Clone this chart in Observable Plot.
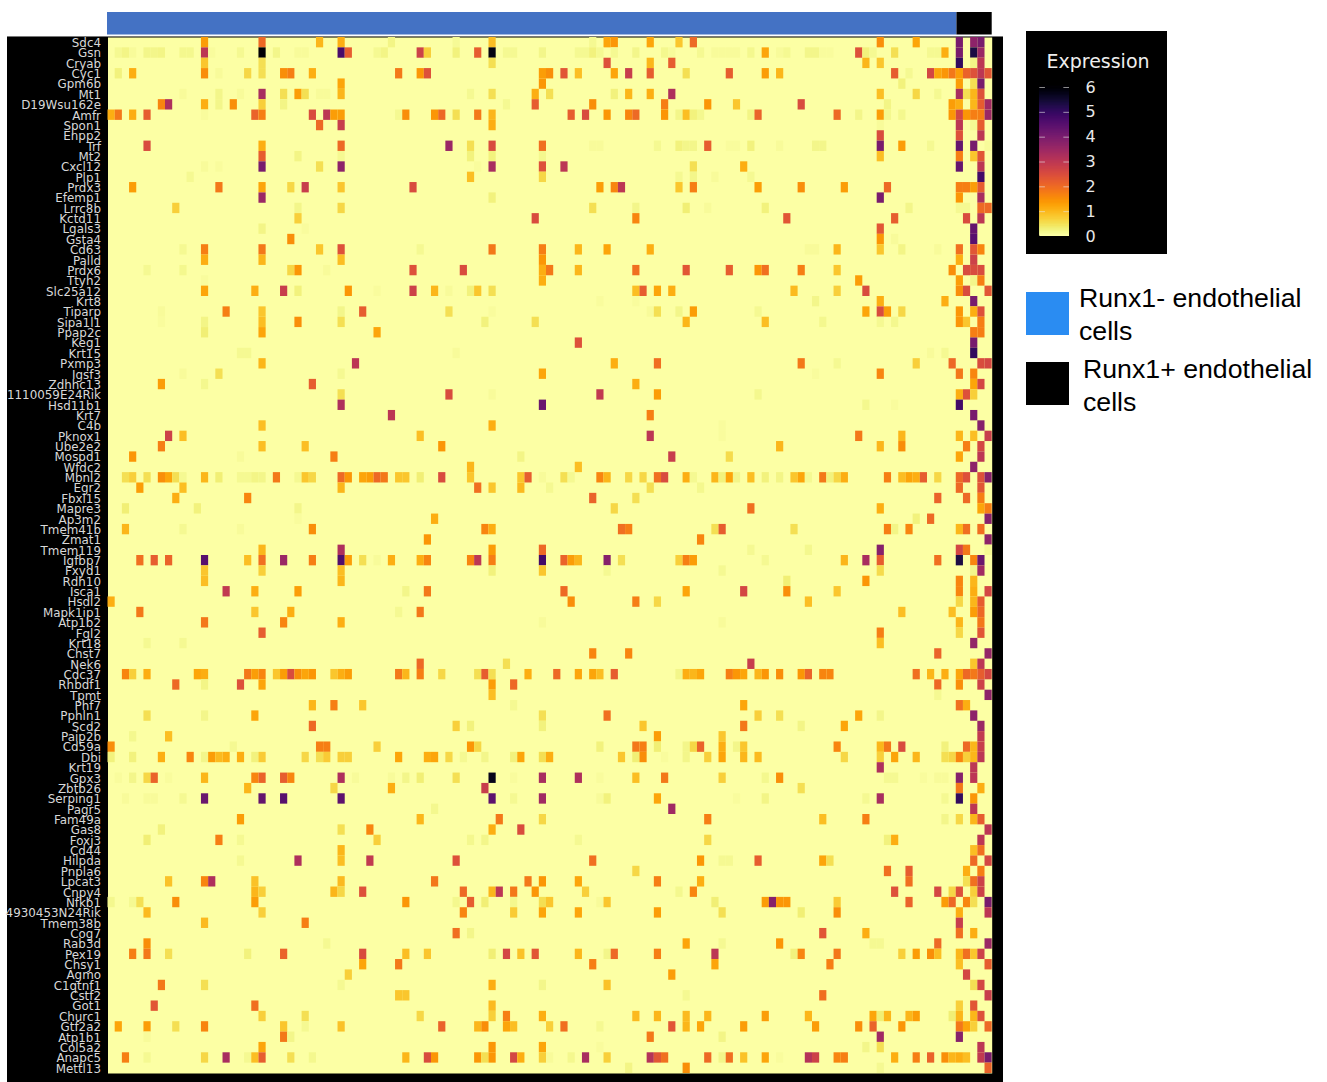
<!DOCTYPE html>
<html><head><meta charset="utf-8">
<script src="https://cdn.jsdelivr.net/npm/d3@7"></script>
<script src="https://cdn.jsdelivr.net/npm/@observablehq/plot@0.6"></script>
<style>
html,body{margin:0;padding:0;background:#fff;width:1327px;height:1082px;overflow:hidden}
.abs{position:absolute}
svg{display:block;background:transparent!important;max-width:none!important}
.lg{position:absolute;font:26.7px "Liberation Sans",Arial,sans-serif;color:#000;line-height:33px;white-space:nowrap}
</style></head><body>
<div class="abs" style="left:7px;top:37px;width:996px;height:1045px;background:#000"></div>
<div class="abs" style="left:7px;top:36px;width:996px;height:1px;background:#777"></div>
<div class="abs" id="main" style="left:0;top:0;width:1327px;height:1082px"></div>
<div class="abs" id="annot" style="left:0;top:0;width:1327px;height:36px"></div>
<div class="abs" style="left:1026px;top:31px;width:141px;height:223px;background:#000"></div>
<div class="abs" id="legend" style="left:1026px;top:31px;width:141px;height:223px"></div>
<div class="abs" style="left:1026px;top:50px;width:144px;text-align:center;font:19px 'DejaVu Sans';color:#eee">Expression</div>
<div class="abs" style="left:1026px;top:292px;width:43px;height:43px;background:#2A8CF2"></div>
<div class="abs" style="left:1026px;top:362px;width:43px;height:43px;background:#000"></div>
<div class="lg" style="left:1079px;top:282px">Runx1- endothelial<br>cells</div>
<div class="lg" style="left:1083px;top:353px">Runx1+ endothelial<br>cells</div>
<script>
const genes = ["Sdc4","Gsn","Cryab","Cyc1","Gpm6b","Mt1","D19Wsu162e","Amfr","Spon1","Enpp2","Trf","Mt2","Cxcl12","Plp1","Prdx3","Efemp1","Lrrc8b","Kctd11","Lgals3","Gsta4","Cd63","Palld","Prdx6","Ttyh2","Slc25a12","Krt8","Tiparp","Sipa1l1","Ppap2c","Keg1","Krt15","Pxmp3","Igsf3","Zdhhc13","1110059E24Rik","Hsd11b1","Krt7","C4b","Pknox1","Ube2e2","Mospd1","Wfdc2","Mbnl2","Egr2","Fbxl15","Mapre3","Ap3m2","Tmem41b","Zmat1","Tmem119","Igfbp7","Fxyd1","Rdh10","Isca1","Hsdl2","Mapk1ip1","Atp1b2","Fgl2","Krt18","Chst7","Nek6","Cdc37","Rhbdf1","Tpmt","Phf7","Pphln1","Scd2","Paip2b","Cd59a","Dbi","Krt19","Gpx3","Zbtb26","Serping1","Pagr5","Fam49a","Gas8","Foxj3","Cd44","Hilpda","Pnpla6","Lpcat3","Cnpy4","Nfkb1","4930453N24Rik","Tmem38b","Cog7","Rab3d","Pex19","Chsy1","Agmo","C1qtnf1","Cstf2","Got1","Churc1","Gtf2a2","Atp1b1","Col5a2","Anapc5","Mettl13"];
// one list per gene: cell index, expression, cell index, expression, ...
const expression = [
[13,1.3,21,2,29,1,32,1.1,39,.2,48,.1,53,.9,67,.12,69,1.2,70,1.4,75,1.2,79,.8,81,2,107,1.5,112,1.2,118,4,120,3.7,121,4],
[1,.12,2,.2,3,.09,5,.18,6,.18,7,.2,10,.15,11,.15,13,3,14,.06,18,.12,21,6,23,.18,26,.09,27,.09,32,4.7,33,2.2,37,.12,38,.2,43,2.7,44,.7,48,.25,51,2.2,53,5.8,55,.12,56,.12,60,.18,65,.12,66,.12,67,.25,68,.12,70,.12,73,.18,77,.15,78,.09,82,.12,84,.09,85,.09,86,.09,87,.09,89,.15,91,1.2,93,.09,94,.12,97,.18,98,.18,99,.06,100,.06,104,2.4,105,.25,106,.12,109,.5,114,.12,115,.12,116,1.1,118,4,120,5.3,121,3.5],
[13,.8,21,.5,53,.5,69,2.4,75,1,78,2.2,105,1,107,.8,118,5,120,.2,121,3],
[1,.25,3,1.1,13,1.5,15,.09,19,.6,21,.5,24,1.5,25,1.7,28,1.1,40,1.8,43,1.4,44,2.4,60,1.3,61,1.5,63,2.3,65,.9,70,1.2,72,2.8,75,2.2,80,.5,86,2.2,91,1.3,93,1,109,2.2,111,.12,114,2.6,115,1.2,116,1.4,117,1.8,118,1.3,119,2.1,120,2.4,121,3,122,2.3],
[32,1.2,60,1.4,110,.25,118,1.3,120,.5,121,4],
[10,.09,15,.18,18,.09,21,3.3,24,.5,26,1.3,27,.5,29,.09,30,.09,32,1,50,.12,53,.5,59,1.1,61,.5,70,.25,72,1,75,1.1,78,3.2,107,.9,112,.6,115,.12,118,3.3,119,.5,120,1,121,2.4],
[7,1.6,8,3.2,13,1.1,15,.18,17,1.5,21,.7,24,.2,55,.12,59,2.2,67,1.5,77,1.7,83,1.4,87,.8,96,2.5,108,.2,117,1.3,118,1.1,120,1,121,2.2,122,3.4],
[0,1.1,1,1.8,3,1.1,5,2.2,13,.06,20,2.1,21,1.7,28,2.5,30,3,31,1.3,32,1.3,40,.12,41,1.5,45,1.4,46,2,48,.5,51,1.8,53,1,64,2.2,66,2.5,69,1.4,72,1.6,73,2,77,1.4,79,.18,80,.9,81,.25,82,.15,89,.2,90,2.1,101,2,104,.18,107,1.3,108,.15,110,.15,117,1.4,118,2.6,119,1.4,120,1.7,121,1.7,122,3.5],
[29,2,32,2.8,53,1.1,107,.09,118,3,120,.12,121,2.2],
[107,2.5,118,2.4,121,3],
[5,2.5,21,1.1,32,2,47,3.5,50,.5,53,2.5,60,1.9,67,.09,68,.09,76,.12,79,.25,80,.18,81,.18,83,2.2,86,.06,87,.06,89,.25,93,.09,98,.18,99,.18,107,4,110,1.3,114,.12,118,4.3,120,4,122,.09],
[21,2.2,26,.2,32,.12,50,.25,53,.25,60,.15,107,.9,118,1.7,120,.8,121,2.3],
[13,.09,15,.06,21,4,29,.5,32,3.7,51,.06,53,3.3,60,2.4,63,3,81,.5,88,1.1,118,4.3,121,3],
[11,.12,50,.9,60,.6,79,.12,81,.18,84,.09,89,.12,121,4.8],
[3,1.3,15,1.8,21,1.2,25,.6,27,2.8,32,.8,42,2.5,68,1.3,70,1.6,71,3,79,.8,81,1.7,90,1.3,96,1.5,102,1.3,108,2,118,1.7,119,1.7,120,1.3,121,2.2],
[21,3.5,53,.25,107,4,118,1.4,121,3.3],
[9,.7,26,.18,32,.6,67,.5,73,.18,80,.3,83,.09,91,.25,111,.18,118,.12,119,.12,121,2,122,2],
[26,.7,59,2.5,73,1.6,94,2.3,109,2.2,119,2.5,121,3],
[21,.2,27,.06,107,2.3,120,4.3],
[25,1.5,107,1.4,109,.09,120,4.5],
[10,.12,13,1.7,21,1.8,29,.8,32,2.4,43,.12,53,1.8,60,1.7,65,1,69,1.2,75,1.1,97,.09,98,.09,101,1,107,.8,110,.2,115,.09,118,1.9,120,2.3,121,1.6],
[13,1.1,21,1,32,.9,60,1.4,118,1.1,120,2.7],
[5,.12,10,.15,25,.6,26,1.4,30,.09,42,2.4,49,2.5,60,1.1,61,1.8,65,1,73,1.9,80,2.3,86,2.2,90,1.4,91,1.9,96,1.7,101,.8,117,1.5,119,2.5,120,2.5,121,2.5],
[13,.06,60,1.1,104,1.3,118,1.3,120,.18,121,1.7],
[13,1.2,20,1.1,24,2.8,26,.25,33,1.4,37,.06,42,2.7,45,1,47,.09,50,.25,51,.8,53,.5,73,.9,74,2.2,76,1.2,78,1.1,95,.95,101,.7,105,2.5,118,1.5,119,2.5,122,2.3],
[68,.06,73,.06,98,.18,107,1.1,116,1.1,120,4],
[7,.09,16,1.7,21,.8,32,.18,35,2.2,47,.5,53,.06,75,.09,76,.5,79,.18,81,1.3,90,.12,105,1.2,107,2.5,108,1.3,110,.6,118,1.4,120,1.1,121,2.4],
[7,.06,13,.2,21,.9,26,1.5,32,.5,52,.25,59,.5,80,1,91,.9,99,.15,107,.12,109,.15,118,1.4,119,.8,121,1.7],
[13,.3,21,1.2,37,1.2,120,1.7,121,1.7],
[65,2.4,120,4],
[18,.12,19,.12,48,.09,114,.09,116,.12,120,5],
[21,1,34,3,70,1.1,76,1.9,96,1.8,101,.12,112,.7,117,2,121,2.5,122,2.6],
[10,.09,15,.5,32,.12,60,1.2,98,.06,107,1.6,118,1.8,120,1.6],
[7,1.3,13,.15,28,2.2,73,1.1,120,1.2,121,2.6],
[32,.5,47,2.5,53,.09,68,2.9,76,1.3,90,.15,118,1.1,119,2.4,120,.7],
[32,3.2,60,4.2,105,.15,109,.06,118,4.8],
[39,3,75,1.7,120,4],
[21,.9,53,1.1,85,.06,121,3.8],
[8,2.7,10,.9,43,.9,75,3,85,.06,104,1.8,110,1,118,1,120,.9,122,2.8],
[7,1.7,21,.9,27,.9,46,1.4,93,1,107,1,110,1.5,119,1.7,121,2.6],
[3,1.4,18,.09,31,1.7,57,.2,78,2.8,86,.55,118,1.2,121,3],
[50,1,65,.9,120,3.7],
[2,.5,3,.7,5,.5,7,1.5,8,1.2,9,.5,10,.12,13,1,15,.3,18,.12,19,.12,20,.2,21,.18,23,1.8,26,.12,27,.8,28,.6,32,2,33,1.4,35,1.2,36,1.3,37,2,38,1.8,40,.8,41,.8,43,.3,46,2.5,50,.8,57,.8,58,2.2,60,.09,63,.5,64,.12,68,1.6,69,1,72,.6,74,.6,76,1.9,77,2.5,80,1.1,81,.12,84,1,85,.25,86,1.2,87,.18,89,.9,91,.25,93,.2,95,.8,96,1.2,97,.12,99,1.8,100,.25,101,.6,102,1.1,108,1.7,110,.9,111,1.2,112,1.1,113,2.2,115,.6,118,2,119,2.4,121,2.4,122,3.8],
[4,1.3,10,.9,32,1,51,1.9,53,.8,57,.95,61,.12,75,.5,82,.15,118,2,121,2.3],
[9,1.1,19,1.6,67,2.1,73,.5,115,2.1,119,2,121,1.7],
[2,.3,12,.25,26,.18,70,.6,89,1.9,107,1.1,121,1.2,122,1.7],
[26,.06,45,1.1,112,.25,114,2,122,3.8],
[2,1,10,.12,18,.09,28,1.5,52,1.6,53,1.1,71,1.9,72,1.7,84,.5,85,2.2,95,.5,108,1.7,109,.2,111,1.6,118,1,119,1.9,121,1.9],
[44,1.4,82,1.6,122,3.7],
[21,1,32,3.2,53,1.3,60,2,89,.12,97,.15,107,3.8,118,2.6,119,1.8,122,.12],
[4,1.9,6,2.2,8,2.1,13,4.5,19,.9,21,1.9,24,3.5,28,1.7,32,4.6,33,1.3,35,.5,37,.09,39,1.1,43,1.1,44,1.6,50,1.6,51,3,53,1.7,60,4.8,63,2.1,64,1.3,65,1,69,3.8,71,.5,79,.7,80,1.7,81,1.3,91,.12,102,1,105,3.3,107,2.2,115,1.9,118,5.3,120,1.6,121,4.2],
[13,.8,21,.7,32,.9,53,.25,60,.8,69,.12,85,.12,107,.55,120,.18,121,3.4],
[13,.9,32,1,94,.3,105,1.4,118,1.6,120,1],
[16,2.9,20,1.1,26,1.3,41,.18,44,1.8,63,2,80,1.2,88,2.6,94,1.5,101,.8,118,1.6,120,1.1,122,2.6],
[0,1.1,64,1.5,73,1.7,76,.6,97,.9,118,.6,120,1,121,2.2],
[4,1.8,20,.8,25,1.1,40,.12,43,1.8,110,.9,117,.9,120,1.3,121,2],
[13,1.8,24,1.6,32,1.1,60,.09,85,.09,118,1,121,1.8],
[21,2.2,107,1.7,118,.6,121,2.3],
[5,.12,10,.12,107,.9,120,3.6],
[67,1.6,72,1.6,115,2.1,122,3.6],
[43,2,55,.5,89,2.8,120,.8,121,3],
[2,1.6,3,.7,5,1.1,12,1.2,13,1.1,19,1.8,20,1.3,21,1.6,23,.8,24,1.3,25,2.5,26,1.5,27,1.2,28,1.4,31,.8,32,1.1,33,1.3,40,1.8,41,1,43,1.7,46,.6,51,.5,52,2.2,53,.5,58,1.1,62,2,65,1.2,67,1.2,68,.9,70,2.2,79,.18,80,1.1,81,1,82,1.2,86,1.7,87,1.4,88,1.2,90,1,91,1.4,93,1.5,96,1.4,97,2.1,99,1.6,100,1.6,112,1.9,114,1,116,1.1,118,1.2,119,2,120,1.8,121,2.2,122,2.6],
[9,2,13,.2,18,2.4,21,1.2,53,1.3,56,2,115,2,118,1.5,121,2.7],
[53,.9,115,.12,122,3.7],
[28,1,31,1.7,35,.8,56,.12,88,1.2,118,1.9,119,1.1],
[5,.5,13,.18,20,1.2,60,.5,69,1.9,90,.7,93,.5,104,1.2,107,.18,120,3.7],
[28,2,48,.7,50,.25,60,.25,74,.8,88,1.8,96,.2,102,1.2,121,3.5],
[3,.15,8,.9,76,1.3,85,.8,121,2.9],
[0,1.5,17,.12,29,1.7,30,1.7,37,.7,50,1.4,51,.6,68,.25,73,1.8,74,1.7,76,.3,80,.18,81,.6,82,2.1,85,1.1,87,.18,88,.8,101,1.6,107,1,108,1.8,110,2.5,116,.25,119,2,120,1,121,2.8],
[0,.25,3,.25,7,1.1,11,1.6,13,.18,14,1.3,15,.95,16,1.1,18,1.1,20,.25,21,.75,27,.6,29,.5,30,.75,32,.7,33,.7,40,1.2,44,1.1,45,1.2,47,.6,49,.12,52,.18,56,.25,57,1.2,60,.5,61,1.1,71,.8,73,.3,74,1.5,77,.06,80,.18,83,.7,85,1.2,88,1,90,.95,102,.6,107,.7,109,1.2,112,1,116,.5,117,.6,118,1.6,119,.7,120,1,121,3],
[107,3.2,120,3],
[1,.06,3,.18,5,.6,6,2.1,8,.06,13,1,20,1.6,21,2.1,24,2.2,25,1.6,32,3.2,34,.09,39,.09,41,.18,43,.3,48,.5,53,5.7,56,.06,60,3.3,65,3.2,68,.06,73,.9,77,1.8,85,.7,91,.15,93,1.5,108,.12,109,.12,113,.06,115,.09,116,.09,118,3.8,120,3],
[19,1,31,.6,39,1.1,52,2.8,96,.5,118,1.8,121,1.1],
[2,.09,5,.09,6,.09,10,.12,13,4.2,21,4.3,24,4.5,32,4.4,53,4.4,56,.12,60,3.4,68,.09,69,.25,76,1.2,87,.06,91,.2,105,.12,107,3.3,116,.12,118,5,120,1.4],
[45,.15,78,3.4,120,3],
[18,1.3,43,1,54,1.8,60,.6,83,1.7,99,.9,105,1.7,116,.18,118,.6,120,1,121,2.2],
[7,.25,32,.5,36,1.6,53,1.1,57,2.5,122,3],
[5,.3,15,1.7,18,.12,37,.7,50,.15,52,.18,65,.12,83,.6,108,.25,109,1.1,121,3],
[32,1,120,.9,121,1.9],
[18,.12,26,3.2,32,.9,36,2.9,48,2.4,67,1.9,82,1.4,85,.12,86,.12,90,2.2,99,1.2,100,.5,120,2,122,2.6],
[73,.6,108,1.9,111,2.2,119,1.1,121,1.7],
[8,.85,13,1.6,14,3.2,20,.85,32,.95,45,1.8,58,1.8,60,1.4,65,1.2,76,1.7,82,1.1,111,1.9,119,.5,120,1.9,121,2.7],
[20,1,21,.7,31,1,32,.6,35,2.4,49,2,53,1,54,3,56,1.8,59,1.4,66,.7,79,.15,81,1.6,109,2.4,115,2.6,117,.6,118,2.4,120,.7,121,2.7],
[0,.15,3,.12,4,.5,9,1.5,20,1.3,41,1.4,48,.15,50,2.2,52,.3,56,.15,60,.5,61,.8,68,.09,69,.8,84,.3,91,1.3,92,3.8,93,1.4,94,1.4,101,.75,111,2.1,116,1.3,117,2,119,1.6,120,.5,122,4],
[5,.95,21,.7,49,1.6,56,.75,60,1.2,65,1.2,76,1.3,85,.5,96,.3,101,1.5,118,1.1,122,3],
[13,.95,27,1.7,118,2.8],
[48,1.9,50,.18,99,2.3,105,1.1,118,1.9,120,1.1],
[5,1.5,30,.12,80,1.2,85,.12,93,1.4,106,.12,107,.12,115,2,122,3.5],
[3,1.7,5,1.8,8,.5,19,.25,24,2.1,35,2.5,41,.9,44,.8,53,.3,55,2.6,57,.85,59,2.3,65,1,69,.18,70,2,76,1.7,84,3,95,.25,96,1.6,101,1.8,110,.7,112,1.3,114,1.5,115,.9,118,1,119,1.9,120,.8,121,2.7],
[35,1.2,40,1.8,67,1.7,84,1.2,100,1.7,118,.9,122,2.2],
[33,.7,78,1.3,119,2.6],
[7,1.8,13,.5,32,.12,53,1.1,60,.18,69,.85,120,.5,121,2.6],
[40,.8,41,.8,80,.12,99,1.9,122,2.8],
[6,2.3,20,1.9,53,.95,118,.7,120,2.3],
[21,.7,27,.5,43,.6,53,.7,55,1.7,60,1.1,73,.95,76,1,80,.95,83,1,91,1.3,97,1,106,1.2,107,.3,108,1,111,1,112,1.3,117,.3,118,1,120,1,121,2.4],
[1,1.2,5,1.3,9,.5,13,1.6,24,.8,27,.12,32,.85,46,2.1,51,1,52,1.5,55,1.2,56,.9,61,.7,63,1.9,68,.12,78,2.3,80,1,82,1.2,88,1.3,98,1.3,104,1.5,106,2.1,110,1.4,118,1.8,119,1.2,120,.7,122,2],
[5,.09,24,1.8,25,.18,75,1.8,85,.2,107,3.4,118,3.8],
[21,1.2,53,1.4,60,1.2,68,.06,105,.18,107,.5,121,3],
[2,1.7,5,.12,13,.6,16,3.3,19,.12,20,.9,21,2.2,25,.5,28,.15,41,1,44,2.5,45,1.4,51,1.4,52,.5,53,1.4,56,2.6,57,1.1,60,.7,61,.09,64,.15,66,3.3,69,.7,75,3.1,76,2.3,77,1.9,83,2,85,.18,86,1.9,88,.85,91,1.2,93,.06,97,3.1,98,2.7,101,1.6,102,1.7,109,1.1,112,1.7,114,2.1,116,1.5,117,1,118,1.1,119,.9,121,2.9,122,4],
[72,.2,80,1.5,107,.12,122,2.1]
];
const cellCount = 123;
const groupSplit = 118.1;
const groupNames = ["Runx1- endothelial cells","Runx1+ endothelial cells"];
const groupFill = ["#4472C4","#000000"];
const legendTicks = [0,1,2,3,4,5,6];

const cells = expression.flatMap((row,r)=>{
  const out=[];
  for(let i=0;i<row.length;i+=2) out.push({gene:genes[r],cell:row[i],value:row[i+1]});
  return out;
});
const xDomain = d3.range(cellCount);
const colorOpt = {type:"linear",domain:[0,6],scheme:"inferno",reverse:true};
const W=1327,H=1082;

const main = Plot.plot({
  width:W,height:H,marginLeft:107.5,marginRight:W-991.7,marginTop:37,marginBottom:H-1073,
  x:{type:"band",domain:xDomain,padding:0,round:false,axis:null,label:null},
  y:{type:"band",domain:genes,padding:0,round:false,label:null},
  color:colorOpt,
  style:{background:"transparent"},
  marks:[
    Plot.frame({fill:d3.interpolateInferno(1),stroke:"none"}),
    Plot.cell(cells,{x:"cell",y:"gene",fill:"value"}),
    Plot.axisY({tickSize:0,tickPadding:7,fontSize:11.9,dy:0.5,fill:"#d8d8d8",fontFamily:"DejaVu Sans",textOverflow:null,lineWidth:Infinity,label:null})
  ]
});
document.getElementById("main").append(main);

const groups = [
  {name:groupNames[0],from:0,to:groupSplit},
  {name:groupNames[1],from:groupSplit,to:cellCount}
];
const annot = Plot.plot({
  width:W,height:36,marginLeft:107,marginRight:W-991.7,marginTop:12,marginBottom:1.5,
  x:{domain:[0,cellCount],axis:null},
  y:{axis:null,domain:[0,1]},
  color:{type:"ordinal",domain:groupNames,range:groupFill},
  style:{background:"transparent"},
  marks:[
    Plot.rect(groups,{x1:"from",x2:"to",y1:0,y2:1,fill:"name"})
  ]
});
document.getElementById("annot").append(annot);

const ramp = d3.range(0,6,0.04);
const legend = Plot.plot({
  width:141,height:223,marginLeft:13.3,marginRight:98,marginTop:56,marginBottom:18,
  x:{domain:[0,1],axis:null},
  y:{domain:[0,6],axis:null},
  color:colorOpt,
  style:{background:"transparent"},
  marks:[
    Plot.rect(ramp,{x1:0,x2:1,y1:d=>d,y2:d=>d+0.1,fill:d=>d,inset:0}),
    Plot.ruleY(legendTicks.slice(1),{x1:0,x2:0.19,stroke:"#e8e8e8",strokeOpacity:.6}),
    Plot.ruleY(legendTicks.slice(1),{x1:0.81,x2:1,stroke:"#e8e8e8",strokeOpacity:.6}),
    Plot.text(legendTicks,{x:1,y:d=>d,text:d=>String(d),dx:21,fill:"#e8e8e8",fontSize:16,fontFamily:"DejaVu Sans",textAnchor:"middle",clip:false})
  ]
});
document.getElementById("legend").append(legend);
</script>
</body></html>
